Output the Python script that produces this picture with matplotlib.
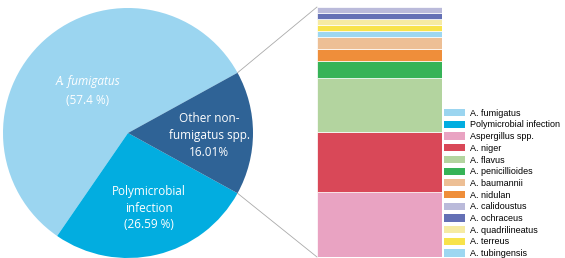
import numpy as np
import matplotlib.pyplot as plt
from matplotlib.patches import Patch, ConnectionPatch

# pie data
pie_labels = ["A. fumigatus", "Polymicrobial infection", "Other non-fumigatus spp."]
pie_values = [57.4, 26.59, 16.01]
pie_colors = ["#9bd5f0", "#02ade0", "#2f6396"]

# breakdown of "other" (stack order bottom -> top)
species = ["Aspergillus spp.", "A. niger", "A. flavus", "A. penicillioides", "A. nidulan",
           "A. baumannii", "A. tubingensis", "A. terreus", "A. quadrilineatus",
           "A. ochraceus", "A. calidoustus"]
counts = [11, 10, 9, 3, 2, 2, 1, 1, 1, 1, 1]
species_colors = ["#e9a3c2", "#d94858", "#b3d49f", "#36b357", "#ef8e3a",
                  "#edbf95", "#9dd7f1", "#f8e34b", "#f6eba3", "#6470b5", "#babada"]

# legend order
legend_labels = ["A. fumigatus", "Polymicrobial infection", "Aspergillus spp.", "A. niger",
                 "A. flavus", "A. penicillioides", "A. baumannii", "A. nidulan",
                 "A. calidoustus", "A. ochraceus", "A. quadrilineatus", "A. terreus",
                 "A. tubingensis"]

W, H = 565, 258
fig = plt.figure(figsize=(W / 100, H / 100), dpi=100)

def px_axes(x0, y0, w, h):
    return fig.add_axes([x0 / W, 1 - (y0 + h) / H, w / W, h / H])

# -------- pie --------
ax = px_axes(3, 8, 250, 250)
start = 360 * pie_values[2] / 200
wedges, _ = ax.pie(pie_values, colors=pie_colors, startangle=start, counterclock=True,
                   radius=1, wedgeprops=dict(linewidth=0))
ax.set_xlim(-1, 1)
ax.set_ylim(-1, 1)
ax.set_aspect("equal")
ax.axis("off")

tfont = dict(family=["Open Sans", "DejaVu Sans"], color="white", fontsize=8.5,
             ha="center", va="center")
ax.text(-0.32, 0.41, "A. fumigatus", style="italic", **tfont)
ax.text(-0.32, 0.26, "(57.4 %)", **tfont)
ax.text(0.65, -0.02, "Other non-\nfumigatus spp.\n16.01%", linespacing=1.4, **tfont)
ax.text(0.17, -0.60, "Polymicrobial\ninfection\n(26.59 %)", linespacing=1.4, **tfont)

# -------- stacked bar --------
bx = px_axes(317, 7, 125, 250)
bottom = 0
for c, col in zip(counts, species_colors):
    bx.bar(0.5, c, width=1, bottom=bottom, color=col, edgecolor="white", linewidth=0.5)
    bottom += c
bx.set_xlim(0, 1)
bx.set_ylim(0, sum(counts))
bx.axis("off")

# connector lines
a = np.deg2rad(start)
for yb, sgn in [(sum(counts), 1), (0, -1)]:
    con = ConnectionPatch(xyA=(np.cos(a), sgn * np.sin(a)), coordsA=ax.transData,
                          xyB=(0, yb), coordsB=bx.transData,
                          color="#aaaaaa", linewidth=0.6)
    fig.add_artist(con)

# -------- legend --------
color_map = dict(zip(species, species_colors))
color_map["A. fumigatus"] = pie_colors[0]
color_map["Polymicrobial infection"] = pie_colors[1]
handles = [Patch(facecolor=color_map[l], edgecolor="none") for l in legend_labels]
fig.legend(handles, legend_labels, loc="upper left", bbox_to_anchor=(441 / W, 1 - 106 / H),
           frameon=False, prop=dict(family=["Liberation Sans", "DejaVu Sans"], size=6.5),
           handlelength=2.4, handleheight=0.85, handletextpad=0.5,
           labelspacing=0.3, borderaxespad=0, borderpad=0.3)

fig.savefig("out.png", dpi=100)
